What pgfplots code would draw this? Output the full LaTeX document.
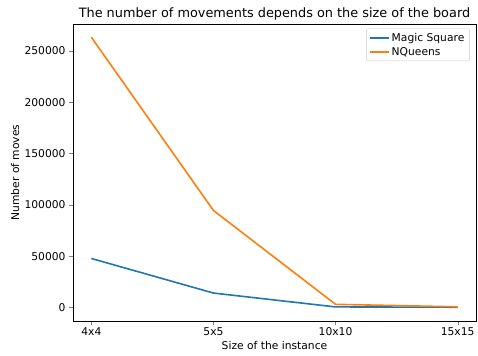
\documentclass[border=0pt]{standalone}
\usepackage{fontspec}
\setmainfont{DejaVu Sans}
\usepackage{pgfplots}
\pgfplotsset{compat=1.18}
\definecolor{c0}{HTML}{1F77B4}
\definecolor{c1}{HTML}{FF7F0E}
\begin{document}
\begin{tikzpicture}
\begin{axis}[
  scale only axis,
  width=376pt, height=277pt,
  xmin=-0.15, xmax=3.15,
  ymin=-13150, ymax=276150,
  xtick={0,1,2,3},
  xticklabels={4x4,5x5,10x10,15x15},
  ytick={0,50000,100000,150000,200000,250000},
  scaled y ticks=false,
  /pgf/number format/assume math mode=true,
  yticklabel style={/pgf/number format/fixed, /pgf/number format/1000 sep={}},
  tick label style={font=\fontsize{10}{12}\selectfont},
  label style={font=\fontsize{10}{12}\selectfont},
  ylabel style={yshift=-2pt},
  xlabel style={yshift=1pt},
  xticklabel style={yshift=1pt},
  tick align=outside,
  tick pos=left,
  major tick length=3.5pt,
  xlabel={Size of the instance},
  ylabel={Number of moves},
  title={The number of movements depends on the size of the board},
  title style={font=\fontsize{12}{14}\selectfont, yshift=-6pt},
  legend cell align=left,
  legend style={font=\fontsize{10}{12}\selectfont, draw=black!20, rounded corners=2pt, at={(0.985,0.985)}, anchor=north east},
  legend image post style={line width=1.5pt},
  axis line style={black},
]
\addplot[c0, line width=1.5pt] coordinates {(0,47700) (1,14000) (2,500) (3,200)};
\addlegendentry{Magic Square}
\addplot[c1, line width=1.5pt] coordinates {(0,263300) (1,94500) (2,3000) (3,600)};
\addlegendentry{NQueens}
\end{axis}
\path ([xshift=-7pt,yshift=-2pt]current bounding box.south west);
\path ([yshift=4pt]current bounding box.north east);
\end{tikzpicture}
\end{document}
